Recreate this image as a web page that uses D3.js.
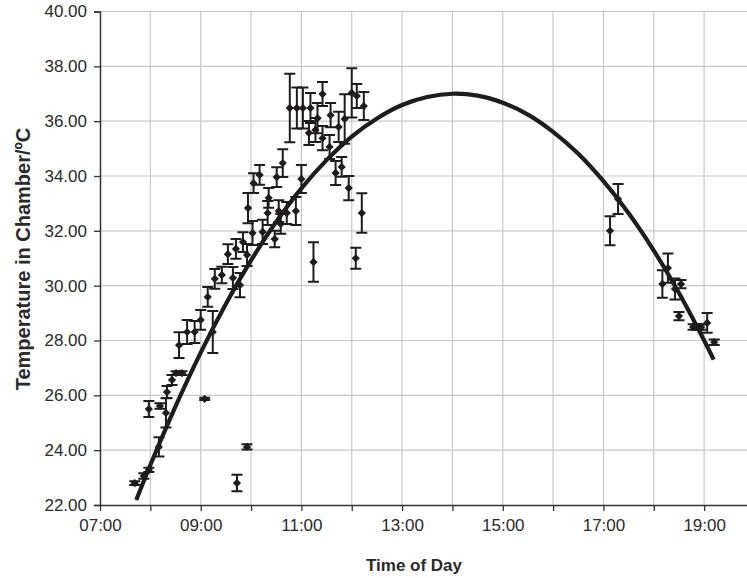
<!DOCTYPE html>
<html>
<head>
<meta charset="utf-8">
<script src="https://cdn.jsdelivr.net/npm/d3@7"></script>
<style>
  body { margin: 0; background: #fff; }
  svg { display: block; font-family: "Liberation Sans", Arial, sans-serif; }
</style>
</head>
<body>
<div id="chart"></div>
<script>
// observations (time in decimal hours, temperature, +/- error)
const obsTime = [
  7.69, 7.87, 7.97, 8.17, 8.31, 7.97, 8.19, 8.33, 8.43, 8.51, 8.63, 8.57, 8.73, 8.88, 9.24,
  9.08, 9.92, 9.72,
  9.0, 9.14, 9.28, 9.42, 9.54, 9.64, 9.78, 9.70, 9.84, 9.92, 9.94, 10.03, 10.05, 10.17,
  10.23, 10.33, 10.35, 10.47, 10.51, 10.55, 10.59, 10.63, 10.71, 10.89, 11.0,
  10.77, 10.91, 11.03, 11.18, 11.42, 11.32, 11.15, 11.28, 11.42, 11.58, 11.56, 11.74,
  11.86, 12.0, 12.1, 12.24, 11.68, 11.8, 11.94, 12.2, 12.08, 11.24,
  17.13, 17.29, 18.17, 18.28, 18.42, 18.54, 18.5, 18.78, 18.86, 18.94, 19.06, 19.2
];
const obsTemp = [
  22.80, 23.06, 23.28, 24.12, 25.36, 25.50, 25.61, 26.12, 26.56, 26.81, 26.81, 27.83, 28.31, 28.31, 28.31,
  25.87, 24.12, 22.80,
  28.75, 29.59, 30.25, 30.39, 31.15, 30.28, 30.02, 31.34, 31.59, 31.12, 32.83, 31.92, 33.74, 34.04,
  31.96, 32.65, 33.20, 31.70, 33.96, 32.72, 32.25, 34.47, 32.65, 32.72, 33.89,
  36.48, 36.48, 36.48, 36.48, 36.99, 36.11, 35.57, 35.68, 35.38, 36.22, 35.06, 35.79,
  36.08, 37.03, 36.92, 36.55, 34.11, 34.33, 33.56, 32.65, 31.00, 30.86,
  32.00, 33.16, 30.06, 30.64, 29.88, 30.06, 28.89, 28.49, 28.49, 28.49, 28.64, 27.94
];
const obsErr = [
  0.07, 0.10, 0.08, 0.35, 0.53, 0.29, 0.10, 0.22, 0.18, 0.07, 0.07, 0.47, 0.44, 0.40, 0.77,
  0.04, 0.10, 0.30,
  0.36, 0.36, 0.36, 0.30, 0.36, 0.40, 0.44, 0.36, 0.36, 0.40, 0.55, 0.44, 0.36, 0.36,
  0.44, 0.44, 0.36, 0.30, 0.36, 0.40, 0.36, 0.51, 0.40, 0.51, 0.51,
  1.25, 0.75, 0.75, 0.55, 0.44, 0.55, 0.44, 0.44, 0.44, 0.44, 0.44, 0.55,
  0.90, 0.90, 0.44, 0.51, 0.44, 0.36, 0.44, 0.72, 0.38, 0.72,
  0.53, 0.55, 0.50, 0.53, 0.38, 0.15, 0.15, 0.10, 0.10, 0.10, 0.36, 0.10
];

// polynomial trend line
const fitTime = [7.72, 8, 8.5, 9, 9.5, 10, 10.5, 11, 11.5, 12, 12.5, 13, 13.5, 14,
  14.5, 15, 15.5, 16, 16.5, 17, 17.5, 18, 18.5, 19, 19.19];
const fitTemp = [22.18, 23.46, 25.60, 27.56, 29.33, 30.92, 32.33, 33.55, 34.58, 35.44,
  36.10, 36.59, 36.88, 37.00, 36.93, 36.67, 36.24, 35.61, 34.81, 33.81, 32.64,
  31.28, 29.73, 28.00, 27.30];

const hourTicks = d3.range(7, 21);
const tempTicks = d3.range(22, 41, 2);

const width = 747,
  height = 578;
const ink = "#1e1c1d";

const svg = d3
  .select("#chart")
  .append("svg")
  .attr("width", width)
  .attr("height", height);

const x = d3.scaleLinear().domain([7, 20]).range([100, 754.5]);
const y = d3.scaleLinear().domain([22, 40]).range([505, 11.5]);

// grid
svg
  .append("g")
  .selectAll("line")
  .data(hourTicks.slice(1))
  .join("line")
  .attr("x1", (d) => x(d))
  .attr("x2", (d) => x(d))
  .attr("y1", y(40))
  .attr("y2", y(22))
  .attr("stroke", "#c8c8c8")
  .attr("stroke-width", 1.2);

svg
  .append("g")
  .selectAll("line")
  .data(tempTicks.slice(1))
  .join("line")
  .attr("x1", x(7))
  .attr("x2", width)
  .attr("y1", (d) => y(d))
  .attr("y2", (d) => y(d))
  .attr("stroke", "#c8c8c8")
  .attr("stroke-width", 1.2);

// axes
const xAxis = svg
  .append("g")
  .attr("transform", `translate(0, ${y(22)})`)
  .call(
    d3
      .axisBottom(x)
      .tickValues(hourTicks)
      .tickSize(6)
      .tickFormat((d) => (d % 2 === 1 ? d3.format("02d")(d) + ":00" : ""))
  );

const yAxis = svg
  .append("g")
  .attr("transform", `translate(${x(7)}, 0)`)
  .call(
    d3
      .axisLeft(y)
      .tickValues(tempTicks)
      .tickSize(6)
      .tickFormat(d3.format(".2f"))
  );

[xAxis, yAxis].forEach((g) => {
  g.select(".domain").attr("stroke", "#333").attr("stroke-width", 1.5);
  g.selectAll(".tick line").attr("stroke", "#333").attr("stroke-width", 1.3);
  g.selectAll("text")
    .attr("fill", "#2a2a2a")
    .style("font-size", "17px")
    .style("font-family", "Liberation Sans, Arial, sans-serif");
});
xAxis.select(".domain").attr("d", `M${x(7)},0.5H${width}`);
xAxis.selectAll("text").attr("y", 14).attr("dy", "0.71em");
yAxis.selectAll("text").attr("x", -13);

// titles
svg
  .append("text")
  .attr("x", 414)
  .attr("y", 571)
  .attr("text-anchor", "middle")
  .attr("fill", "#2a2a2a")
  .style("font-size", "17px")
  .style("font-weight", "bold")
  .text("Time of Day");

svg
  .append("text")
  .attr("transform", `translate(30, 259) rotate(-90)`)
  .attr("text-anchor", "middle")
  .attr("fill", "#2a2a2a")
  .style("font-size", "20px")
  .style("font-weight", "bold")
  .text("Temperature in Chamber/ºC");

// observations
const obs = obsTime.map((t, i) => ({ t, v: obsTemp[i], e: obsErr[i] }));

const bars = svg.append("g").attr("stroke", ink).attr("stroke-width", 2);
bars
  .selectAll("path")
  .data(obs)
  .join("path")
  .attr("fill", "none")
  .attr("d", ({ t, v, e }) => {
    const cx = x(t),
      top = y(v + e),
      bot = y(v - e);
    return `M${cx - 5.5},${top}H${cx + 5.5}M${cx},${top}V${bot}M${cx - 5.5},${bot}H${cx + 5.5}`;
  });

svg
  .append("g")
  .selectAll("path")
  .data(obs)
  .join("path")
  .attr("d", d3.symbol(d3.symbolSquare, 34)())
  .attr("transform", ({ t, v }) => `translate(${x(t)}, ${y(v)}) rotate(45)`)
  .attr("fill", ink);

// trend line
const fit = fitTime.map((t, i) => [t, fitTemp[i]]);
svg
  .append("path")
  .datum(fit)
  .attr("fill", "none")
  .attr("stroke", ink)
  .attr("stroke-width", 4.2)
  .attr(
    "d",
    d3
      .line()
      .x((d) => x(d[0]))
      .y((d) => y(d[1]))
      .curve(d3.curveCatmullRom)
  );
</script>
</body>
</html>
